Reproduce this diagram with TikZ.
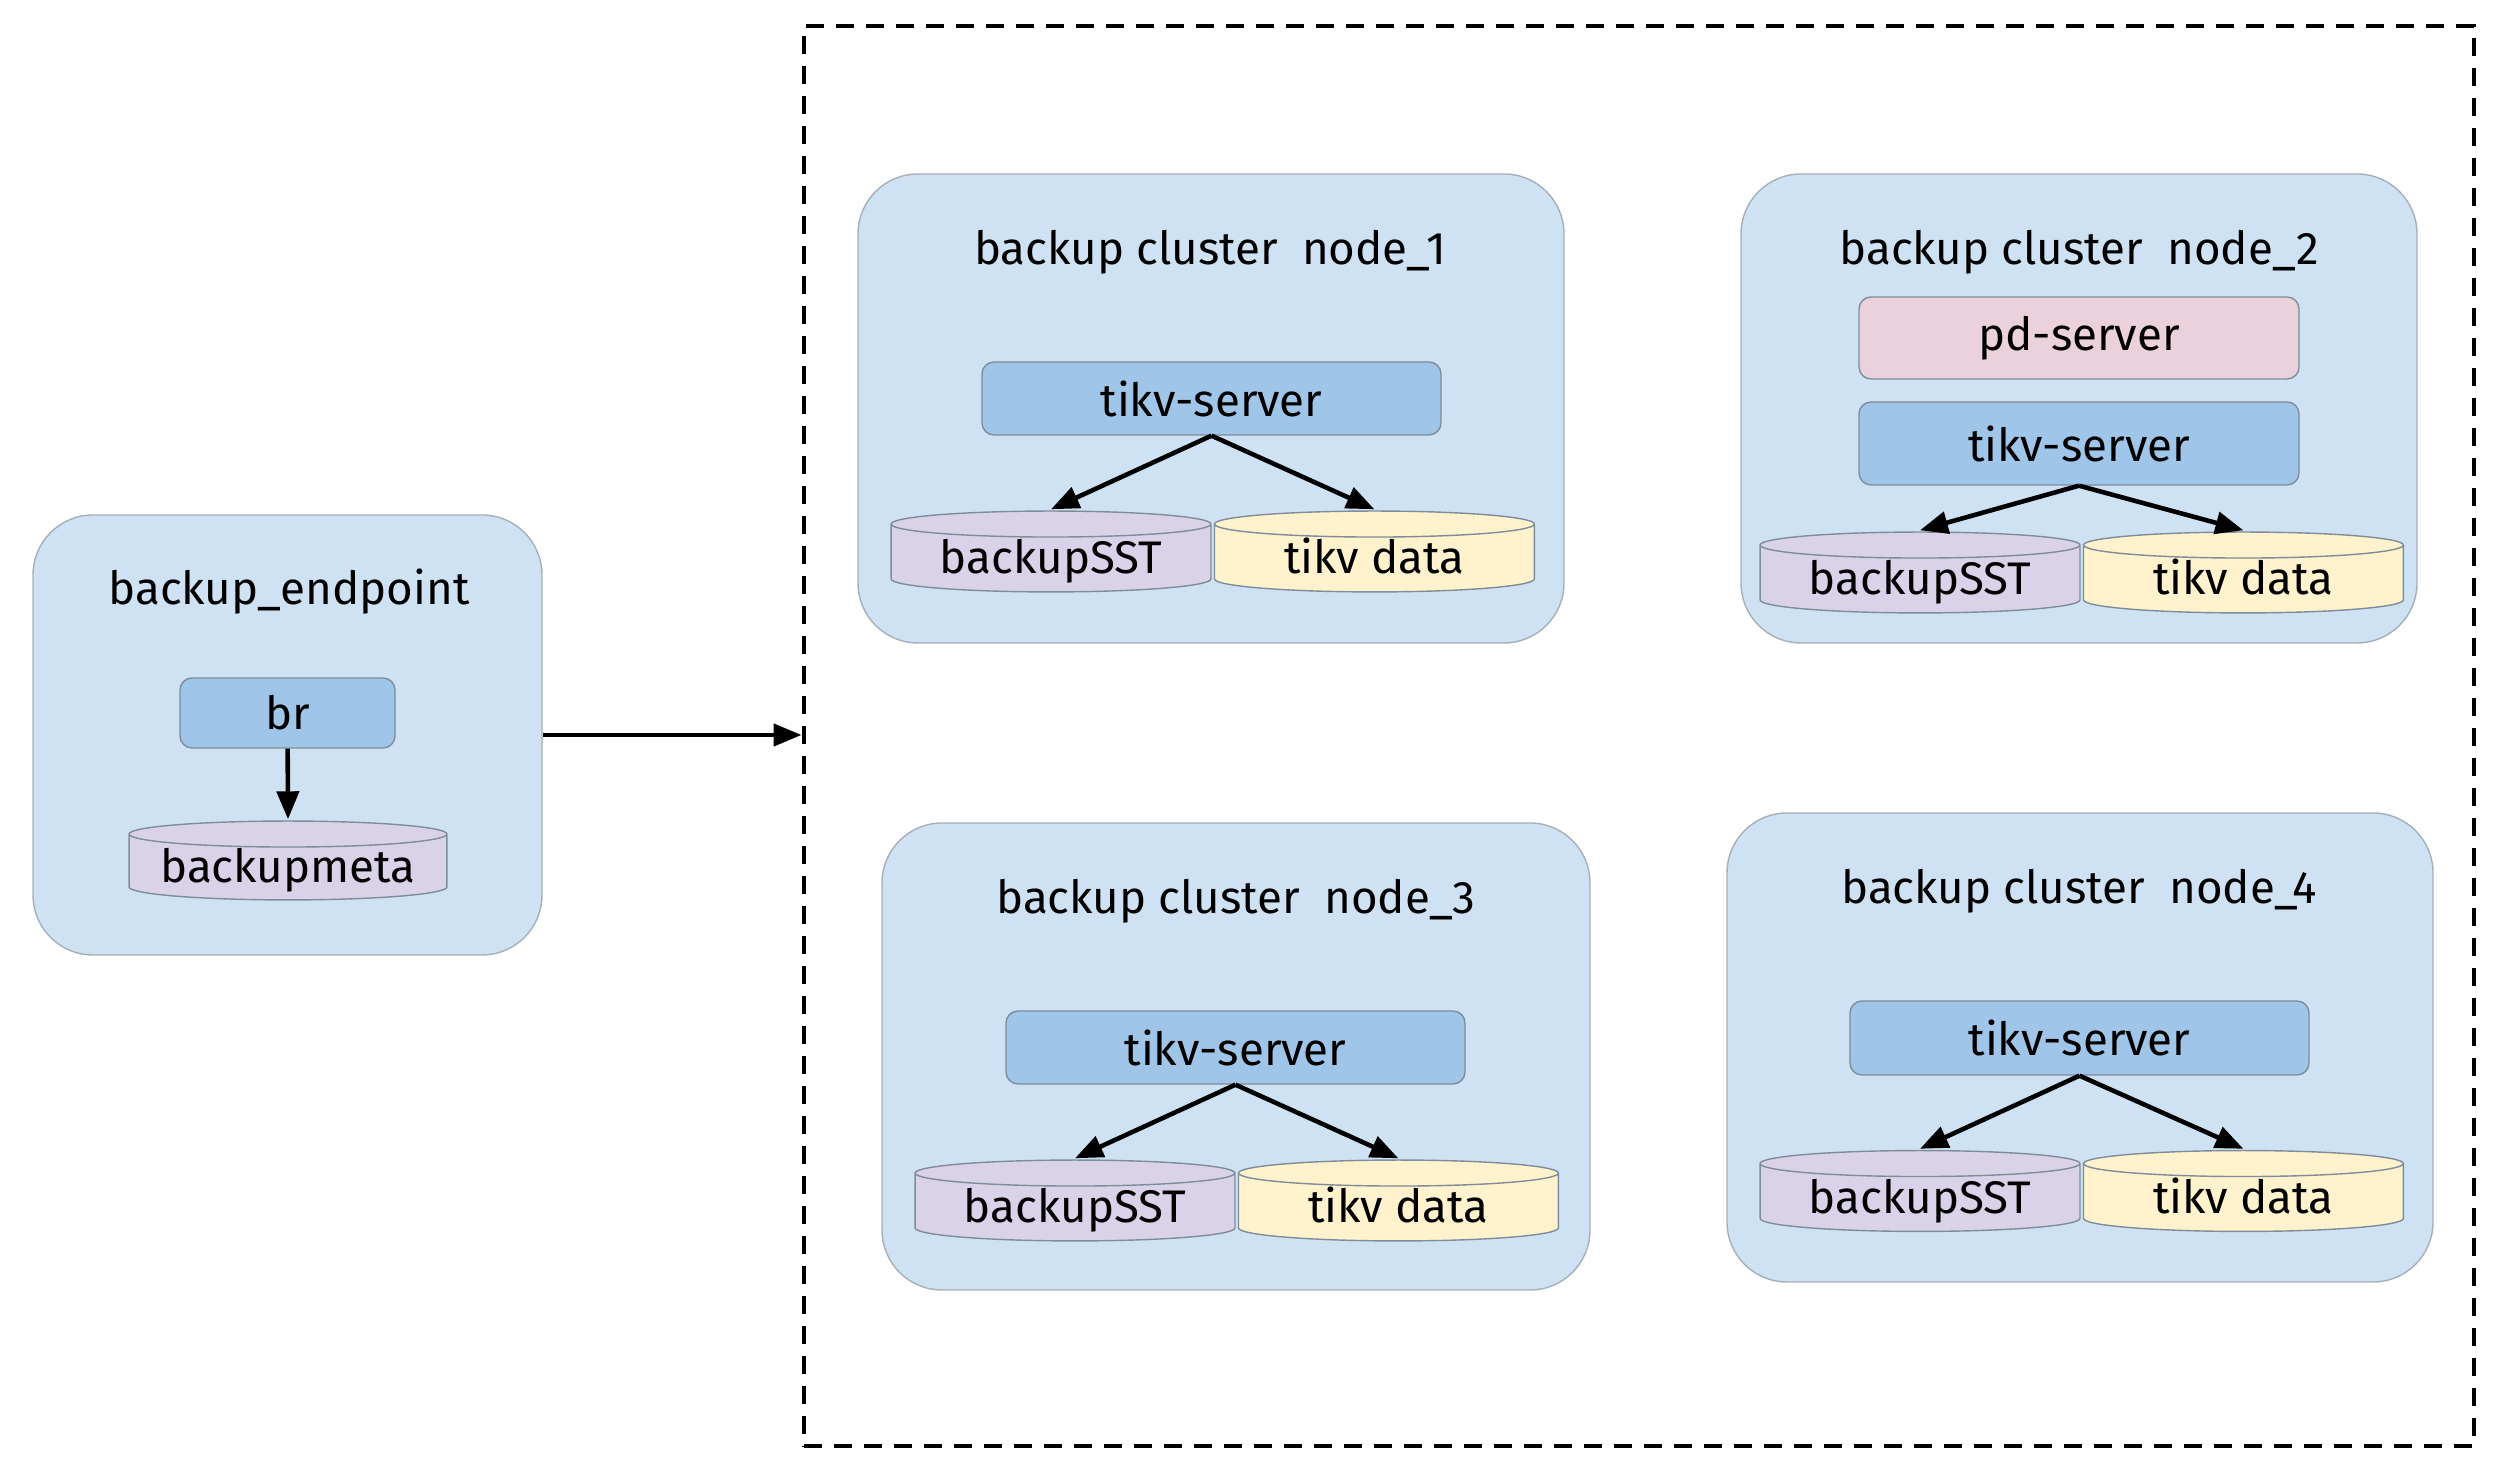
\documentclass[tikz,border=0pt]{standalone}
\usepackage{fontspec}
\setmainfont{Fira Sans}
\usepackage{tikz}
\usetikzlibrary{
	shapes.geometric,
	arrows.meta,
	positioning,
	calc
}
\definecolor{boxblue}{HTML}{CFE2F3}
\definecolor{tikvblue}{HTML}{9FC5E8}
\definecolor{pdpink}{HTML}{EAD1DC}
\definecolor{sstpurple}{HTML}{D9D2E9}
\definecolor{datayellow}{HTML}{FFF2CC}
\definecolor{edgegray}{HTML}{7F8C99}

\begin{document}
\begin{tikzpicture}[
				font=\fontsize{13}{15}\selectfont,
				hostbox/.style={
					rectangle, draw=edgegray!70, fill=boxblue,
					rounded corners=0.6cm, line width=0.4pt
				},
				title/.style={
					inner sep=0pt, align=center
				},
				server/.style={
					rectangle, draw=edgegray, fill=tikvblue,
					rounded corners=0.12cm, line width=0.4pt,
					minimum width=4.59cm, minimum height=0.73cm
				},
				pdbox/.style={
					server, fill=pdpink,
					minimum width=4.40cm, minimum height=0.82cm
				},
				dbase/.style={
					rectangle, inner sep=0pt,
					minimum width=3.22cm, minimum height=0.83cm,
					text height=0.55cm, text depth=0.1cm,
					path picture={
						\filldraw[fill=#1, draw=edgegray, line width=0.4pt]
							let \p1=(path picture bounding box.north west),
							    \p2=(path picture bounding box.south east),
							    \n1={(\x2-\x1)/2-0.3pt}, \n2={0.13cm} in
							(\x1+0.3pt,\y1-\n2-0.3pt) -- (\x1+0.3pt,\y2+\n2+0.3pt)
							arc[start angle=180, end angle=360, x radius=\n1, y radius=\n2]
							-- (\x2-0.3pt,\y1-\n2-0.3pt)
							arc[start angle=0, end angle=180, x radius=\n1, y radius=\n2]
							-- cycle
							(\x1+0.3pt,\y1-\n2-0.3pt)
							arc[start angle=180, end angle=360, x radius=\n1, y radius=\n2];
					}
				},
				sstdb/.style={dbase=sstpurple},
				datadb/.style={dbase=datayellow},
				arrow/.style={-{Triangle[length=0.28cm,width=0.22cm]}, line width=1.3pt, black}
				]
				\useasboundingbox (0,0) rectangle (25,14.67);
				
				% cluster frame
				\node[draw, line width=1.4pt, dash pattern=on 0.18cm off 0.12cm,
					minimum width=16.70cm, minimum height=14.20cm] (cluster) at (16.39,7.31) {};
				
				% backup endpoint
				\node[hostbox, minimum width=5.09cm, minimum height=4.40cm] (endpoint) at (2.875,7.32) {};
				\node[title] (endpointTitle) at (2.89,8.75) {backup\_endpoint};
				\node[server, minimum width=2.15cm, minimum height=0.70cm] (br) at (2.875,7.54) {br};
				\node[sstdb, minimum height=0.81cm, minimum width=3.20cm] (backupmeta) at (2.88,6.065) {backupmeta};
				
				% node_1
				\node[hostbox, minimum width=7.06cm, minimum height=4.69cm] (host1) at (12.11,10.585) {};
				\node[title] (title1) at (12.10,12.15) {backup cluster\ \ node\_1};
				\node[server] (tikv1) at (12.115,10.685) {tikv-server};
				\node[sstdb] (sst1) at (10.51,9.155) {backupSST};
				\node[datadb, right=0pt of sst1] (data1) {tikv data};
				
				% node_2
				\node[hostbox, minimum width=6.76cm, minimum height=4.69cm] (host2) at (20.79,10.585) {};
				\node[title] (title2) at (20.79,12.15) {backup cluster\ \ node\_2};
				\node[pdbox] (pd2) at (20.79,11.29) {pd-server};
				\node[server, minimum width=4.40cm, minimum height=0.83cm] (tikv2) at (20.79,10.235) {tikv-server};
				\node[sstdb] (sst2) at (19.20,8.945) {backupSST};
				\node[datadb, right=0pt of sst2] (data2) {tikv data};
				
				% node_3
				\node[hostbox, minimum width=7.08cm, minimum height=4.67cm] (host3) at (12.36,4.105) {};
				\node[title] (title3) at (12.36,5.66) {backup cluster\ \ node\_3};
				\node[server] (tikv3) at (12.355,4.195) {tikv-server};
				\node[sstdb] (sst3) at (10.75,2.665) {backupSST};
				\node[datadb, right=0pt of sst3] (data3) {tikv data};
				
				% node_4
				\node[hostbox, minimum width=7.06cm, minimum height=4.69cm] (host4) at (20.80,4.195) {};
				\node[title] (title4) at (20.79,5.76) {backup cluster\ \ node\_4};
				\node[server, minimum height=0.74cm] (tikv4) at (20.795,4.29) {tikv-server};
				\node[sstdb] (sst4) at (19.20,2.76) {backupSST};
				\node[datadb, right=0pt of sst4] (data4) {tikv data};
				
				% arrows
				\draw[arrow] (endpoint.east) -- (endpoint.east -| cluster.west);
				\draw[arrow] (br) -- (backupmeta.north);
				\draw[arrow] (tikv1.south) -- (sst1.north);
				\draw[arrow] (tikv1.south) -- (data1.north);
				\draw[arrow] (tikv2.south) -- (sst2.north);
				\draw[arrow] (tikv2.south) -- (data2.north);
				\draw[arrow] (tikv3.south) -- (sst3.north);
				\draw[arrow] (tikv3.south) -- (data3.north);
				\draw[arrow] (tikv4.south) -- (sst4.north);
				\draw[arrow] (tikv4.south) -- (data4.north);
			\end{tikzpicture}
\end{document}
